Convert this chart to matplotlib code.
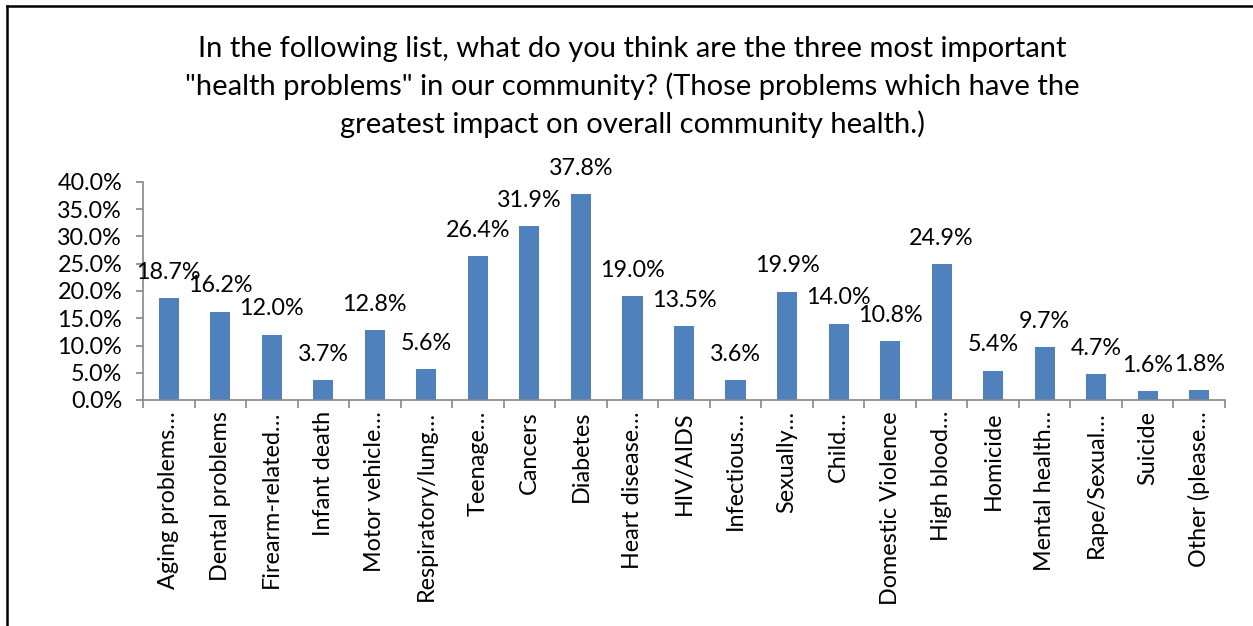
import matplotlib
matplotlib.use('Agg')
import matplotlib.pyplot as plt
from matplotlib.ticker import FixedLocator, PercentFormatter
import numpy as np

plt.rcParams['font.family'] = ['Lato', 'DejaVu Sans']

categories = [
    "Aging problems…", "Dental problems", "Firearm-related…", "Infant death",
    "Motor vehicle…", "Respiratory/lung…", "Teenage…", "Cancers", "Diabetes",
    "Heart disease…", "HIV/AIDS", "Infectious…", "Sexually…", "Child…",
    "Domestic Violence", "High blood…", "Homicide", "Mental health…",
    "Rape/Sexual…", "Suicide", "Other (please…",
]
values = [18.7, 16.2, 12.0, 3.7, 12.8, 5.6, 26.4, 31.9, 37.8, 19.0, 13.5,
          3.6, 19.9, 14.0, 10.8, 24.9, 5.4, 9.7, 4.7, 1.6, 1.8]
y_ticks = [0, 5, 10, 15, 20, 25, 30, 35, 40]

title = ('In the following list, what do you think are the three most important\n'
         '"health problems" in our community? (Those problems which have the\n'
         'greatest impact on overall community health.)')

bar_color = "#4F81BD"
axis_color = "#868686"
fs = 16.8

fig = plt.figure(figsize=(12.53, 6.26), dpi=100)
W, H = 1253, 626
ax = fig.add_axes([143 / W, 1 - 400 / H, (1225 - 143) / W, (400 - 182) / H])

x = np.arange(len(categories))
ax.bar(x, values, width=0.39, color=bar_color, zorder=2)
for xi, v in zip(x, values):
    ax.annotate(f"{v:.1f}%", (xi, v), xytext=(0, 11), textcoords="offset points",
                ha="center", va="bottom", fontsize=fs, color="black")

ax.set_xlim(-0.5, len(categories) - 0.5)
ax.set_ylim(0, 40)
ax.yaxis.set_major_locator(FixedLocator(y_ticks))
ax.yaxis.set_major_formatter(PercentFormatter(decimals=1))

# category labels sit in the middle, tick marks between categories
ax.set_xticks(x)
ax.set_xticklabels(categories, rotation=90, fontsize=fs, va="top", ha="center")
ax.xaxis.set_minor_locator(FixedLocator(np.arange(-0.5, len(categories), 1.0)))
ax.tick_params(axis="x", which="major", length=0, pad=8)
ax.tick_params(axis="x", which="minor", length=6, color=axis_color, width=1.2)
ax.tick_params(axis="y", length=5, color=axis_color, width=1.2, labelsize=fs, pad=10)

for side in ["top", "right"]:
    ax.spines[side].set_visible(False)
for side in ["left", "bottom"]:
    ax.spines[side].set_color(axis_color)
    ax.spines[side].set_linewidth(1.2)

fig.text(632 / W, 1 - 87 / H, title, ha="center", va="center",
         fontsize=21, linespacing=1.45)

# chart-area frame along the top and left edges
fig.add_artist(plt.Line2D([7 / W, 7 / W], [0, 1 - 6 / H], color="black",
                          linewidth=1.8, transform=fig.transFigure))
fig.add_artist(plt.Line2D([7 / W, 1], [1 - 6 / H, 1 - 6 / H], color="black",
                          linewidth=1.8, transform=fig.transFigure))

fig.savefig("out.png", dpi=100)
